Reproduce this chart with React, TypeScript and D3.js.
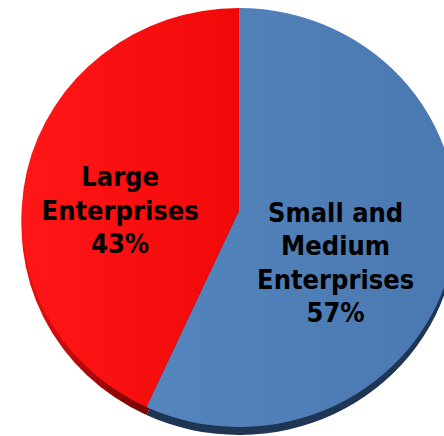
import React from "react";
import * as d3 from "d3";

const categories = ["Small and Medium Enterprises", "Large Enterprises"];
const values = [57, 43];
const labelLines = [
  ["Small and", "Medium", "Enterprises", "57%"],
  ["Large", "Enterprises", "43%"],
];
const topColors = [
  ["#5485bd", "#4a78b1"],
  ["#ff1616", "#f20808"],
];
const sideColors = [
  ["#1f3554", "#1f3554"],
  ["#f01010", "#7a0404"],
];

const W = 444;
const H = 436;

export default function App() {
  const cx = 239;
  const cy = 217.5;
  const rx = 217.5;
  const ry = 209.5;
  const vy = 210.5;
  const depth = 8;

  const pie = d3.pie<number>().sort(null).value((d) => d);
  const arcs = pie(values);

  const pt = (a: number, dy = 0): [number, number] => [
    cx + rx * Math.sin(a),
    cy - ry * Math.cos(a) + dy,
  ];

  const slicePath = (a0: number, a1: number, dy = 0) => {
    const p = d3.path();
    const s = pt(a0, dy);
    const e = pt(a1, dy);
    p.moveTo(cx, vy + dy);
    p.lineTo(s[0], s[1]);
    const large = a1 - a0 > Math.PI ? 1 : 0;
    return p.toString() + `A${rx},${ry} 0 ${large} 1 ${e[0]},${e[1]}Z`;
  };

  const labelScale = d3.scaleLinear().domain([0, 1]).range([0, rx]);
  const labelR = [0.455, 0.56];
  const labelYOffset = [52, 0];
  const lineH = 33.5;

  return (
    <svg
      width={W}
      height={H}
      style={{ position: "fixed", left: 0, top: 0, background: "#fff" }}
    >
      <defs>
        {arcs.map((a, i) => (
          <linearGradient key={i} id={`g${i}`} x1="0" y1="0" x2="1" y2="0">
            <stop offset="0%" stopColor={topColors[i][0]} />
            <stop offset="100%" stopColor={topColors[i][1]} />
          </linearGradient>
        ))}
        {arcs.map((a, i) => (
          <linearGradient
            key={"sg" + i}
            id={`sg${i}`}
            gradientUnits="userSpaceOnUse"
            x1={cx - rx}
            y1="0"
            x2={cx - rx * 0.45}
            y2="0"
          >
            <stop offset="0%" stopColor={sideColors[i][0]} />
            <stop offset="100%" stopColor={sideColors[i][1]} />
          </linearGradient>
        ))}
      </defs>
      {arcs.map((a, i) => (
        <path
          key={"s" + i}
          d={slicePath(a.startAngle, a.endAngle, depth)}
          fill={`url(#sg${i})`}
        />
      ))}
      {arcs.map((a, i) => (
        <path
          key={"t" + i}
          d={slicePath(a.startAngle, a.endAngle)}
          fill={`url(#g${i})`}
        />
      ))}
      {arcs.map((a, i) => {
        const mid = (a.startAngle + a.endAngle) / 2;
        const r = labelScale(labelR[i]);
        const x = cx + r * Math.sin(mid);
        const lines = labelLines[i];
        const yc = vy + labelYOffset[i];
        const y0 = yc - ((lines.length - 1) * lineH) / 2;
        return (
          <text
            key={"l" + i}
            textAnchor="middle"
            fontFamily="'DejaVu Sans Condensed', 'DejaVu Sans', sans-serif"
            fontStretch="condensed"
            fontWeight="bold"
            fontSize={27}
            fill="#000"
          >
            {lines.map((ln, j) => (
              <tspan key={j} x={x} y={y0 + j * lineH} dy="0.35em">
                {ln}
              </tspan>
            ))}
          </text>
        );
      })}
    </svg>
  );
}
